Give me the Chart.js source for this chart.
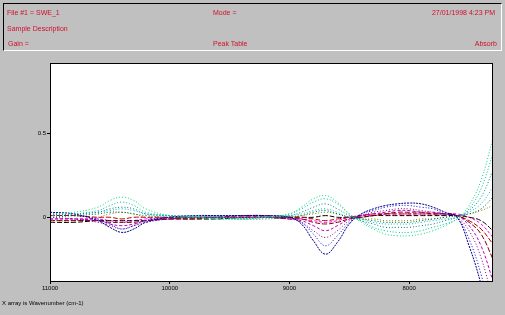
<!DOCTYPE html>
<html><head><meta charset="utf-8">
<script src="https://cdn.jsdelivr.net/npm/chart.js@4/dist/chart.umd.min.js"></script>
<style>
html,body{margin:0;padding:0;background:#c0c0c0;width:505px;height:315px;overflow:hidden;font-family:"Liberation Sans",Arial,sans-serif;}
#hdr{position:absolute;left:3px;top:3px;width:497px;height:46px;border-top:1px solid #000;border-left:1px solid #000;border-right:1px solid #fff;border-bottom:1px solid #fff;}
.t{position:absolute;color:#d0102a;font-size:7px;white-space:nowrap;}
#foot{position:absolute;left:2px;top:300px;font-size:6px;color:#000;white-space:nowrap;}
#c{position:absolute;left:0;top:0;}
</style></head><body>
<canvas id="c" width="505" height="315"></canvas>
<div id="hdr">
<div class="t" style="left:3px;top:5px">File #1 = SWE_1</div>
<div class="t" style="left:209px;top:5px">Mode =</div>
<div class="t" style="right:6px;top:5px">27/01/1998 4:23 PM</div>
<div class="t" style="left:3px;top:21px">Sample Description</div>
<div class="t" style="left:4px;top:36px">Gain =</div>
<div class="t" style="left:209px;top:36px">Peak Table</div>
<div class="t" style="right:4px;top:36px">Absorb</div>
</div>
<div id="foot">X array is Wavenumber (cm-1)</div>
<script>
const wavenumbers = [11000,10800,10600,10500,10400,10300,10200,10000,9800,9600,9400,9200,9000,8900,8800,8700,8600,8500,8400,8300,8200,8100,8000,7900,7800,7700,7600,7500,7400,7300];
const xTicks = [11000,10000,9000,8000];
const yTicks = [0,0.5];

const s1  = [0.02,0.03,0.06,0.10,0.12,0.10,0.05,0.01,0.00,-0.01,-0.01,0.00,0.02,0.06,0.11,0.13,0.09,0.02,-0.03,-0.07,-0.10,-0.11,-0.11,-0.10,-0.08,-0.05,-0.01,0.07,0.22,0.47];
const s2  = [0.01,0.02,0.04,0.07,0.09,0.07,0.03,0.01,0.00,-0.01,-0.01,0.00,0.02,0.05,0.09,0.11,0.08,0.02,-0.02,-0.06,-0.08,-0.09,-0.09,-0.08,-0.06,-0.04,-0.01,0.05,0.17,0.38];
const s3  = [0.01,0.02,0.03,0.05,0.06,0.05,0.02,0.01,0.00,0.00,-0.01,0.00,0.01,0.03,0.06,0.08,0.05,0.01,-0.02,-0.04,-0.06,-0.06,-0.06,-0.05,-0.04,-0.02,0.00,0.04,0.12,0.28];
const s4  = [0.02,0.02,0.03,0.04,0.05,0.04,0.02,0.01,0.01,0.00,0.00,0.00,0.01,0.02,0.04,0.05,0.03,0.00,-0.01,-0.03,-0.04,-0.04,-0.04,-0.03,-0.02,-0.01,0.00,0.03,0.08,0.18];
const s5  = [0.00,0.01,0.02,0.03,0.03,0.02,0.01,0.00,0.00,0.00,-0.01,-0.01,0.00,0.01,0.03,0.04,0.02,0.00,-0.01,-0.02,-0.03,-0.03,-0.03,-0.02,-0.01,0.00,0.01,0.02,0.05,0.12];
const s6  = [0.03,0.02,-0.02,-0.06,-0.09,-0.07,-0.03,0.00,0.01,0.01,0.01,0.01,0.00,-0.04,-0.14,-0.22,-0.15,-0.04,0.02,0.05,0.07,0.08,0.085,0.08,0.06,0.03,0.00,-0.17,-0.40,-0.70];
const s7  = [0.02,0.01,-0.01,-0.04,-0.07,-0.05,-0.02,0.00,0.01,0.01,0.01,0.01,0.00,-0.03,-0.10,-0.17,-0.11,-0.03,0.02,0.04,0.06,0.07,0.07,0.06,0.05,0.02,0.00,-0.13,-0.34,-0.62];
const s8  = [0.00,-0.01,-0.03,-0.05,-0.07,-0.05,-0.03,-0.01,0.00,0.00,0.00,0.00,-0.01,-0.03,-0.08,-0.12,-0.08,-0.02,0.01,0.03,0.04,0.05,0.05,0.04,0.03,0.02,0.00,-0.08,-0.24,-0.50];
const s9  = [-0.01,-0.01,-0.02,-0.04,-0.05,-0.04,-0.02,-0.01,0.00,0.00,0.00,0.00,-0.01,-0.02,-0.05,-0.08,-0.05,-0.01,0.01,0.02,0.03,0.04,0.04,0.03,0.03,0.02,0.01,-0.05,-0.17,-0.38];
const s10 = [-0.02,-0.02,-0.02,-0.03,-0.03,-0.03,-0.02,-0.01,-0.01,0.00,0.00,0.00,-0.01,-0.01,-0.03,-0.04,-0.03,-0.01,0.00,0.01,0.02,0.03,0.03,0.03,0.02,0.02,0.01,-0.03,-0.10,-0.25];
const s11 = [0.01,0.01,0.00,0.00,-0.01,0.00,0.00,0.00,0.00,0.00,0.01,0.01,0.00,0.00,-0.01,-0.02,-0.01,0.00,0.01,0.02,0.02,0.02,0.02,0.02,0.02,0.02,0.01,-0.02,-0.07,-0.16];
const s12 = [-0.03,-0.03,-0.02,-0.02,-0.02,-0.02,-0.02,-0.01,-0.01,-0.01,0.00,0.00,0.00,0.00,0.00,0.01,0.00,0.00,0.00,0.01,0.01,0.01,0.01,0.01,0.01,0.01,0.01,0.00,-0.02,-0.08];
const s13 = [-0.02,-0.02,0.00,0.02,0.03,0.02,0.00,-0.01,-0.01,0.00,0.00,0.00,0.00,0.01,0.02,0.03,0.02,0.00,-0.01,-0.01,-0.02,-0.02,-0.02,-0.01,-0.01,0.00,0.01,0.02,0.04,0.07];
const s14 = [-0.01,-0.01,-0.01,-0.02,-0.03,-0.02,-0.01,0.00,0.00,0.00,0.00,0.00,0.00,-0.01,-0.02,-0.03,-0.02,0.00,0.01,0.01,0.02,0.02,0.02,0.02,0.02,0.02,0.02,0.00,-0.04,-0.12];

const series = [s1,s2,s3,s4,s5,s6,s7,s8,s9,s10,s11,s12,s13,s14];
const colors = ['#00e070','#00c0a0','#008080','#00c0c0','#006040','#000080','#0000ff','#800080','#c000c0','#800000','#c00000','#000000','#808000','#ff00ff'];
const dashes = [[1,2],[1,2],[1,2],[1,2],[1,2],[2,1],[1,2],[1,2],[3,2],[5,2],[5,2],[5,2],[1,2],[3,2]];

const datasets = series.map((s,i)=>({
  data: wavenumbers.map((w,j)=>({x:w,y:s[j]})),
  borderColor: colors[i], borderWidth: 1, borderDash: dashes[i],
  pointRadius: 0, tension: 0.4, fill:false
}));

const frame = {
  id:'frame',
  beforeDraw(ch){const a=ch.chartArea,c=ch.ctx;c.save();c.fillStyle='#fff';c.fillRect(a.left,a.top,a.right-a.left,a.bottom-a.top);c.restore();},
  afterDraw(ch){const a=ch.chartArea,c=ch.ctx;c.save();c.strokeStyle='#000';c.lineWidth=1;c.strokeRect(a.left+0.5,a.top+0.5,a.right-a.left-1,a.bottom-a.top);c.restore();}
};

new Chart(document.getElementById('c'),{
  type:'line',
  data:{datasets},
  options:{
    responsive:false, animation:false,
    layout:{padding:{top:63,right:12,left:0,bottom:0}},
    plugins:{legend:{display:false},tooltip:{enabled:false}},
    scales:{
      x:{type:'linear',reverse:true,min:7300,max:11000,
        afterBuildTicks:s=>{s.ticks=xTicks.map(v=>({value:v}));},
        afterFit:s=>{s.height=34;},
        grid:{drawOnChartArea:false,tickLength:3,color:'#000'},border:{display:false},
        ticks:{color:'#000',font:{size:6,family:'Liberation Sans'},maxRotation:0,autoSkip:false,padding:1,callback:v=>String(v)}},
      y:{type:'linear',min:-0.38,max:0.92,
        afterBuildTicks:s=>{s.ticks=yTicks.map(v=>({value:v}));},
        afterFit:s=>{s.width=50;},
        grid:{drawOnChartArea:false,tickLength:3,color:'#000'},border:{display:false},
        ticks:{color:'#000',font:{size:6,family:'Liberation Sans'},padding:1,callback:v=>String(v)}}
    }
  },
  plugins:[frame]
});
</script>
</body></html>
